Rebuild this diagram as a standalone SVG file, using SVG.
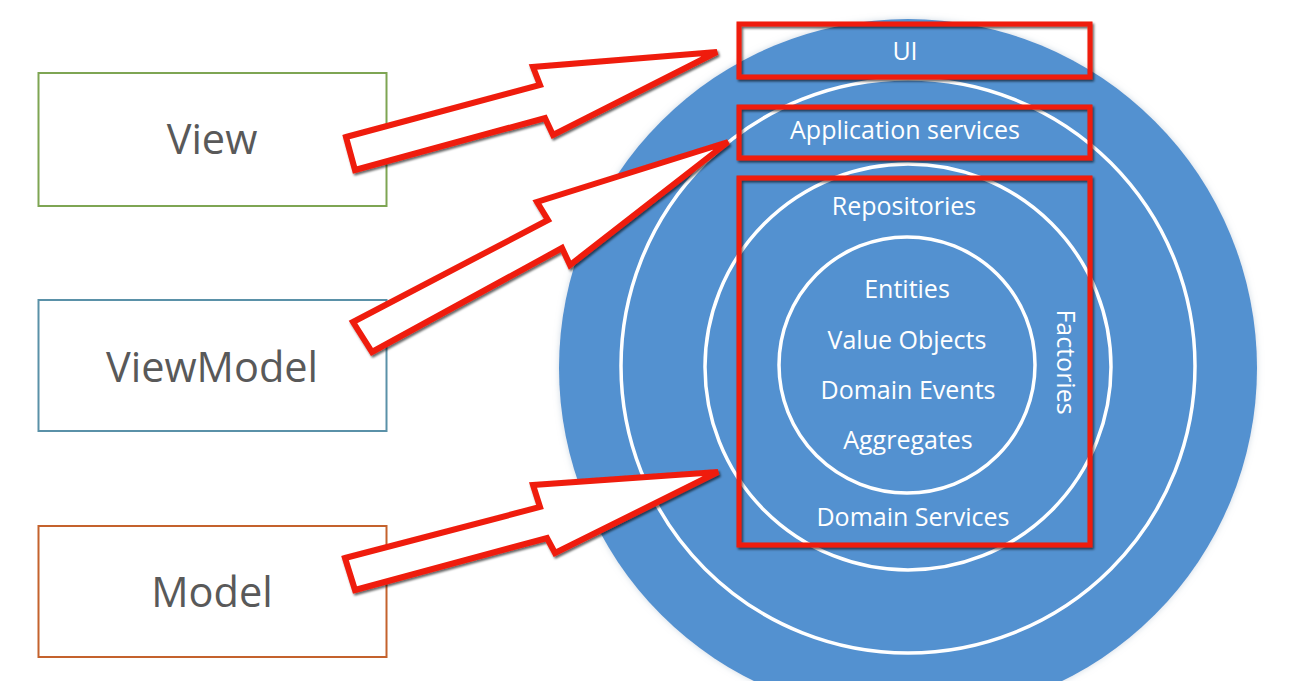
<svg xmlns="http://www.w3.org/2000/svg" width="1300" height="681" viewBox="0 0 1300 681">
  <defs>
    <filter id="sh" x="-10%" y="-10%" width="120%" height="130%">
      <feDropShadow dx="1.5" dy="2" stdDeviation="1.2" flood-color="#000" flood-opacity="0.6"/>
    </filter>
    <filter id="glow" x="-5%" y="-5%" width="110%" height="110%">
      <feDropShadow dx="0" dy="0" stdDeviation="3" flood-color="#9fb4c8" flood-opacity="0.5"/>
    </filter>
  </defs>
  <style>
    .box { fill: #ffffff; stroke-width: 2; }
    .lbl { font-family: "Open Sans", "Noto Sans", sans-serif; font-size: 41.5px; fill: #595959; text-anchor: middle; }
    .ring { fill: none; stroke: #ffffff; stroke-width: 3.5; }
    .wt { font-family: "Open Sans", "Noto Sans", sans-serif; font-size: 25px; fill: #ffffff; text-anchor: middle; }
    .red { fill: none; stroke: #ef1c0c; stroke-width: 5; filter: url(#sh); }
    .arrow { fill: #ffffff; stroke: #ef1c0c; stroke-width: 6; stroke-linejoin: miter; filter: url(#sh); }
  </style>
  <rect width="1300" height="681" fill="#ffffff"/>

  <g id="layers">
    <circle cx="908" cy="368" r="349" fill="#5391d0" filter="url(#glow)"/>
    <circle class="ring" cx="908" cy="366" r="287"/>
    <circle class="ring" cx="908" cy="367" r="203"/>
    <circle class="ring" cx="907" cy="365" r="128"/>
    <text class="wt" x="905" y="60">UI</text>
    <text class="wt" x="905" y="139">Application services</text>
    <text class="wt" x="904" y="215">Repositories</text>
    <text class="wt" x="907" y="298">Entities</text>
    <text class="wt" x="907" y="349">Value Objects</text>
    <text class="wt" x="908" y="399">Domain Events</text>
    <text class="wt" x="908" y="449">Aggregates</text>
    <text class="wt" x="913" y="526">Domain Services</text>
    <text class="wt" transform="translate(1057,362) rotate(90)">Factories</text>
  </g>

  <g id="ui-box"><rect class="red" x="739" y="24" width="351" height="53"/></g>
  <g id="app-box"><rect class="red" x="739" y="107" width="351" height="51"/></g>
  <g id="domain-box"><rect class="red" x="739" y="178" width="351" height="367"/></g>

  <g id="view">
    <rect class="box" x="38.5" y="73" width="348" height="133" stroke="#7ea553"/>
    <text class="lbl" x="212" y="154">View</text>
  </g>
  <g id="viewmodel">
    <rect class="box" x="38.5" y="300" width="348" height="131" stroke="#5a91a8"/>
    <text class="lbl" x="212" y="382">ViewModel</text>
  </g>
  <g id="model">
    <rect class="box" x="38.5" y="526" width="348" height="131" stroke="#c4622d"/>
    <text class="lbl" x="212" y="607">Model</text>
  </g>

  <g id="connectors">
    <polygon class="arrow" points="346,137 540,85 533,67 717,52 553,135 545,118 355,170"/>
    <polygon class="arrow" points="353,322 548,220 537,202 728,142 570,265 562,248 372,352"/>
    <polygon class="arrow" points="345,558 540,507 533,485 718,472 555,553 547,538 355,590"/>
  </g>
</svg>
